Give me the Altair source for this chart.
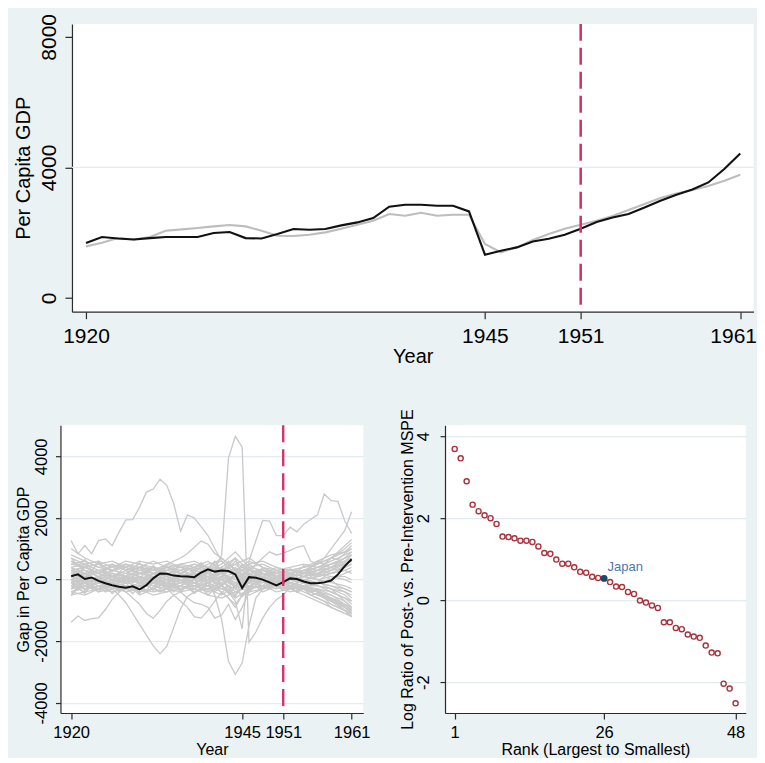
import altair as alt
import pandas as pd

FONT = "Liberation Sans"
BG = "#EAF2F3"
GRID = "#E2ECEE"
RED = "#D6336C"
AXIS = "#2b2b2b"

# ---------------- top panel: Japan vs synthetic Japan ----------------
years = list(range(1920, 1962))
japan_gdp = [1683, 1867, 1824, 1794, 1835, 1867, 1867, 1867, 1990, 2020,
             1835, 1824, 1959, 2112, 2092, 2112, 2224, 2316, 2449, 2795,
             2857, 2857, 2826, 2826, 2652, 1326, 1449, 1551, 1734, 1816,
             1939, 2122, 2327, 2469, 2571, 2775, 2979, 3163, 3326, 3540,
             3949, 4428]
synthetic_gdp = [1581, 1693, 1835, 1794, 1870, 2061, 2102, 2143, 2194, 2235,
                 2194, 2061, 1908, 1898, 1939, 2010, 2122, 2245, 2367, 2571,
                 2520, 2612, 2520, 2550, 2550, 1653, 1398, 1551, 1775, 1959,
                 2122, 2245, 2367, 2510, 2693, 2877, 3061, 3204, 3306, 3428,
                 3591, 3775]
treatment_year = 1951
top_grid_values = [4000]

# ---------------- bottom-left: gaps (Japan + placebos) ----------------
japan_gap = [110, 170, 20, 70, -40, -120, -180, -230, -260, -220,
             -320, -180, 40, 200, 190, 130, 110, 100, 80, 230,
             335, 260, 295, 280, 170, -270, 80, 60, 0, -90,
             -190, -80, 40, 20, -60, -120, -120, -90, -30, 170,
             440, 660]

bundle_years = [1920, 1922, 1924, 1926, 1928, 1930, 1932, 1934, 1936, 1938,
                1940, 1942, 1944, 1946, 1948, 1950, 1952, 1954, 1956, 1958,
                1960, 1961]
p01 = [600, 400, 500, 300, 400, 200, 300, 500, 400, 300, 500, 600, 200, 400, 300, 200, 300, 400, 600, 800, 900, 1000]
p02 = [-300, -200, -400, -300, -200, -400, -300, -100, -300, -200, -400, -200, -600, -300, -200, -300, -200, -400, -600, -800, -1000, -1200]
p03 = [200, 300, 100, 200, 0, 100, -100, 0, 100, 200, 100, 300, 500, 100, 0, -100, 100, 200, 300, 500, 700, 900]
p04 = [-100, 0, -200, -100, -300, -200, -100, -200, 0, -100, -200, -400, -800, -200, -100, 0, -100, -300, -400, -600, -900, -1100]
p05 = [400, 500, 300, 400, 500, 300, 400, 200, 300, 400, 200, 100, 600, 200, 300, 100, 200, 100, 300, 400, 600, 700]
p06 = [0, -100, 100, 0, -100, 0, 200, 100, -100, 0, 100, -100, -300, 100, 0, -200, 0, -100, -200, -300, -500, -700]
p07 = [800, 600, 400, 500, 300, 400, 200, 300, 400, 300, 200, 400, 700, 300, 200, 100, 200, 300, 500, 700, 900, 1100]
p08 = [-500, -400, -300, -400, -200, -300, -400, -300, -200, -400, -300, -500, -200, -400, -300, -200, -300, -500, -700, -900, -1100, -1200]
p09 = [100, 200, 300, 100, 200, 400, 300, 200, 100, 0, 300, 200, 0, -100, 100, 200, 100, 0, -100, -200, -400, -500]
p10 = [300, 100, 0, 200, 100, -100, 0, -200, -100, 100, 0, 200, 300, 500, 200, 100, 0, 100, 200, 400, 500, 600]
p11 = [-200, -300, -100, -200, -300, -100, -200, -300, -400, -300, -100, 0, -400, -200, -300, -100, -200, -300, -300, -400, -600, -800]
p12 = [500, 600, 400, 300, 500, 400, 600, 400, 500, 600, 400, 700, 300, 600, 400, 300, 400, 500, 400, 600, 800, 900]
p13 = [-400, -200, -300, -100, -200, -400, -300, -400, -300, -200, -300, -100, 100, -300, -200, -400, -300, -200, -100, 0, 200, 300]
p14 = [200, 0, 100, 300, 200, 100, 0, 100, 300, 100, 200, 0, -200, 0, 100, 300, 200, 100, 0, -100, -200, -300]
p15 = [700, 500, 600, 400, 600, 500, 300, 400, 200, 400, 600, 300, 500, 700, 400, 200, 300, 200, 400, 500, 700, 800]
p16 = [-100, -300, -200, -400, -300, -200, -100, -200, -300, -100, -200, -300, -500, -100, -200, -100, -300, -200, -400, -500, -700, -900]
p17 = [0, 100, 200, 100, 300, 200, 100, 300, 200, 100, 0, 100, 200, 0, -100, 100, 0, -100, -200, -400, -600, -700]
p18 = [1000, 700, 500, 300, 400, 200, 100, 200, 100, 200, 100, 0, -200, 100, 200, 0, 100, 200, 300, 200, 300, 400]
p19 = [-300, -100, 0, -100, 100, 0, -200, -100, 0, -200, -100, -300, -100, -200, 0, -200, -100, 0, 100, 200, 400, 500]
p20 = [300, 400, 200, 500, 300, 500, 400, 300, 500, 400, 300, 500, 900, 400, 500, 300, 200, 300, 200, 100, 0, -100]
p21 = [100, -100, 0, -100, 0, -100, 100, -100, 0, 100, -100, 100, -100, 0, -100, 100, 0, 100, 200, 300, 400, 500]
p22 = [-200, 0, -100, 100, -100, 100, -100, 0, -100, -100, 0, -200, 200, -100, 100, -100, -100, -200, -300, -500, -800, -1000]
p23 = [400, 200, 300, 100, 0, 200, 100, 0, 200, 0, -100, 100, 400, -100, 0, 200, 300, 200, 100, 300, 500, 600]
p24 = [-400, -500, -300, -200, -400, -300, -500, -400, -200, -300, -500, -600, -400, -500, -300, -200, -400, -300, -500, -600, -800, -900]
p25 = [600, 300, 200, 0, 100, 300, 200, 400, 300, 500, 400, 200, 0, 300, 100, 400, 200, 300, 400, 500, 600, 800]
p26 = [-100, 100, 0, -200, 0, -100, -300, -100, -200, 0, 200, 0, 100, 200, 0, -100, 100, 0, -100, -200, -300, -400]
p27 = [200, 100, 300, 200, 100, 0, 200, 100, -100, 200, 100, -200, -500, 0, 200, 100, -100, -200, -200, -300, -400, -600]
p28 = [-200, -100, -300, 0, -100, -200, 0, -300, -100, -200, 0, 200, -100, 100, -100, 0, 100, 200, 100, 200, 300, 200]
p29 = [500, 400, 500, 600, 400, 600, 500, 600, 400, 500, 300, 400, 100, 500, 600, 400, 300, 400, 500, 700, 1000, 1200]
p30 = [0, 200, -100, 100, -100, 100, 0, -100, 100, -100, 100, 200, 300, 0, 100, 0, 200, 100, 0, 100, 100, 0]

# bundle lines with yearly zig-zags (1920-1961)
q1 = [400, 150, 500, 250, 600, 300, 450, 200, 500, 350, 550, 250, 400, 150, 450, 300, 500, 200, 350, 550,
      300, 600, 250, 450, 700, 100, 400, 250, 350, 150, 300, 200, 350, 250, 450, 400, 550, 500, 700, 650,
      850, 1000]
q2 = [-300, -50, -350, -150, -400, -100, -300, -50, -250, -450, -200, -350, -100, -300, -150, -400, -200, -50, -300, -150,
      -350, -100, -450, -200, -600, 100, -250, -100, -300, -150, -250, -100, -200, -300, -250, -400, -350, -500, -600, -700,
      -850, -950]
q3 = [100, 350, 50, 300, 0, 250, -50, 200, 100, 350, 50, 250, 0, 300, 100, 350, 150, -50, 250, 50,
      300, 100, 400, -100, 200, 500, 0, 200, 50, 250, 0, 150, 50, 200, 100, 250, 150, 350, 300, 450,
      550, 650]
q4 = [-100, -350, 0, -250, 50, -300, -100, -400, 0, -200, -450, -150, -350, 0, -250, -100, -400, -200, 50, -300,
      -100, -350, 100, -300, -500, -200, 200, -150, 0, -250, -50, -200, -100, -300, -200, -350, -400, -550, -650, -800,
      -900, -1050]
q5 = [700, 450, 650, 300, 550, 400, 250, 500, 300, 150, 400, 200, 450, 250, 100, 350, 150, 400, 200, 450,
      250, 500, 200, 600, 300, 0, 350, 150, 400, 250, 100, 250, 150, 300, 200, 350, 300, 450, 400, 550,
      700, 800]
q6 = [-500, -250, -450, -150, -400, -200, -450, -250, -100, -350, -150, -400, -250, -50, -300, -150, -350, -200, -450, -250,
      -500, -300, -150, -450, -250, -550, -350, -200, -400, -300, -200, -350, -250, -400, -300, -500, -450, -600, -700, -850,
      -1000, -1100]

# placebo lines that leave the bundle (yearly values 1920-1961)
pA = [1266, 834, 1104, 834, 1266, 1320, 1104, 1540, 1940, 1950,
      2350, 2840, 2940, 3260, 3050, 2460, 1570, 2100, 2000, 1720,
      1430, 1000, 600, 400, 200, -300, 100, 300, 200, 100,
      0, -100, 100, 300, 200, 400, 600, 500, 700, 900,
      1100, 1300]
pC = [300, 200, 400, 300, 200, 300, 100, 200, 0, 100,
      200, 300, 400, 350, 500, 600, 700, 850, 1050, 1250,
      1150, 850, 700, 500, 300, -100, 200, 100, 300, 200,
      100, 0, -100, -200, -100, -300, -400, -500, -700, -800,
      -1000, -1100]
pS1 = [-200, -100, -300, -200, -100, 0, -200, -100, 100, 0,
       -100, 100, 0, 200, 100, 0, 200, 100, 300, 200,
       400, 300, 800, 3950, 4650, 4300, -2030, -1700, -1250, -900,
       -650, -500, -250, -100, 0, -200, -100, 100, 0, -200,
       -300, -400]
pS2 = [100, 300, 200, 0, 100, -100, 0, 200, 100, -100,
       0, -200, -100, 0, -200, -100, -300, -200, -400, -300,
       -100, -500, -1300, -2650, -3080, -2700, -1500, -600, -300, -100,
       100, 0, 200, 100, 300, 200, 100, 300, 400, 300,
       500, 600]
pE = [-100, 0, -200, -100, 0, 100, 0, -100, 0, 200,
      100, 0, -100, 100, 0, 200, 100, 0, 200, 100,
      0, 200, -200, -400, -700, -1600, 600, 1270, 1920, 1900,
      1430, 1430, 1700, 1550, 1800, 1950, 2100, 2780, 2560, 2540,
      1900, 1500]
pF = [0, 100, -100, 200, 100, 0, 100, 200, 0, -100,
      100, 0, 200, 100, 0, -100, 100, 200, 0, 100,
      -100, 100, 300, 0, -300, 200, 300, 500, 700, 900,
      800, 850, 950, 1050, 1100, 600, 500, 700, 1000, 1300,
      1600, 2200]
pN1 = [-1385, -1180, -1325, -1270, -1240, -970, -640, -400, -300, -200,
       -300, -100, 0, -200, -100, 100, 0, -200, -100, -300,
       -200, -400, -200, 0, 200, 100, -100, 0, 200, 100,
       0, 100, -100, -300, -200, -400, -500, -600, -800, -900,
       -1000, -1200]
pG = [300, 100, 200, 0, -100, -200, -300, -500, -750, -1100,
      -1450, -1800, -2150, -2410, -2150, -1550, -950, -550, -400, -300,
      -100, -200, 100, 0, -200, 200, 0, -100, -200, 0,
      100, 200, 100, 0, -100, 100, 0, -200, -300, -500,
      -700, -900]
pH = [-500, -300, -400, -200, -300, -100, -200, -300, -400, -600,
      -800, -1100, -1250, -1000, -700, -500, -700, -900, -1200, -1250,
      -1000, -700, -400, -600, -900, -500, -300, -100, 0, -200,
      -100, -300, -200, -400, -300, -500, -600, -700, -900, -1000,
      -1100, -1150]
pI = [0, -200, -100, -300, -200, -400, -300, -200, -400, -300,
      -500, -400, -300, -400, -300, -500, -400, -600, -750, -800,
      -900, -1250, -1150, -800, -1300, -900, -400, -200, -300, -100,
      -200, 0, -200, -100, -300, -400, -300, -500, -600, -700,
      -900, -1000]

# ---------------- bottom-right: MSPE ratio ranking ----------------
ranks = list(range(1, 49))
log_ratio = [3.69, 3.46, 2.90, 2.33, 2.17, 2.07, 2.00, 1.86, 1.55, 1.54,
             1.51, 1.45, 1.45, 1.42, 1.31, 1.15, 1.13, 0.99, 0.89, 0.89,
             0.80, 0.69, 0.67, 0.57, 0.54, 0.53, 0.44, 0.33, 0.32, 0.20,
             0.15, -0.01, -0.06, -0.13, -0.19, -0.54, -0.54, -0.68, -0.71, -0.84,
             -0.89, -0.92, -1.11, -1.28, -1.30, -2.04, -2.16, -2.52]
japan_rank = 26
japan_label = "Japan"

# ================= build frames =================
top_df = pd.DataFrame({
    "year": years + years,
    "gdp": japan_gdp + synthetic_gdp,
    "series": ["Japan"] * len(years) + ["Synthetic Japan"] * len(years),
})

bundle = [p01, p02, p03, p04, p05, p06, p07, p08, p09, p10,
          p11, p12, p13, p14, p15, p16, p17, p18, p19, p20,
          p21, p22, p23, p24, p25, p26, p27, p28, p29, p30]
yearly = [q1, q2, q3, q4, q5, q6, pA, pC, pS1, pS2, pE, pF, pN1, pG, pH, pI]
rows = []
for i, vals in enumerate(bundle):
    for yr, v in zip(bundle_years, vals):
        rows.append({"line": f"b{i}", "year": yr, "gap": v})
for i, vals in enumerate(yearly):
    for yr, v in zip(years, vals):
        rows.append({"line": f"y{i}", "year": yr, "gap": v})
placebo_df = pd.DataFrame(rows)
gap_df = pd.DataFrame({"year": years, "gap": japan_gap})

rank_df = pd.DataFrame({"rank": ranks, "ratio": log_ratio})
others_df = rank_df[rank_df["rank"] != japan_rank]
japan_df = rank_df[rank_df["rank"] == japan_rank].assign(label=japan_label)

PLAIN = "'' + datum.value"

# ================= top chart =================
x_top = alt.X("year:Q", scale=alt.Scale(domain=[1919.12, 1961.83], nice=False, zero=False),
              axis=alt.Axis(values=[1920, 1945, 1951, 1961], labelExpr=PLAIN, title="Year",
                            labelFontSize=21, titleFontSize=20, tickSize=7, labelPadding=7,
                            titlePadding=0, grid=False, labelOverlap=False, labelFlush=False,
                            labelOffset={"condition": {"test": "datum.value == 1961", "value": -7.1},
                                         "value": 0}))
y_top = alt.Y("gdp:Q", scale=alt.Scale(domain=[-419, 8396], nice=False, zero=False),
              axis=alt.Axis(values=[0, 4000, 8000], labelExpr=PLAIN, title="Per Capita GDP",
                            labelAngle=270, labelAlign="center", labelBaseline="bottom",
                            labelFontSize=21, titleFontSize=20, tickSize=7, labelPadding=5.6,
                            titlePadding=4.9, minExtent=33.6, maxExtent=33.6, grid=False,
                            labelOverlap=False, labelFlush=False))

top_grid = alt.Chart(pd.DataFrame({"gdp": top_grid_values})).mark_rule(
    color=GRID, strokeWidth=1.3).encode(y=y_top)
top_synth = alt.Chart(top_df[top_df["series"] == "Synthetic Japan"]).mark_line(
    strokeWidth=2.1, color="#BDBDBD").encode(x=x_top, y=y_top)
top_japan = alt.Chart(top_df[top_df["series"] == "Japan"]).mark_line(
    strokeWidth=2.1, color="#111111").encode(x=x_top, y=y_top)
top_rule = alt.Chart(pd.DataFrame({"year": [treatment_year]})).mark_rule(
    color=RED, strokeWidth=2.6, strokeDash=[17, 7]).encode(x=x_top)
top = alt.layer(top_grid, top_synth, top_japan, top_rule).properties(width=682, height=288)

# invisible 1px spacer that lets the top panel sit independently of the bottom row
spacer = alt.Chart(pd.DataFrame({"s": [0]})).mark_point(opacity=0).encode(
    x=alt.X("s:Q", axis=None), y=alt.Y("s:Q", axis=None)
).properties(width=1, height=288, view=alt.ViewBackground(fill=None, stroke=None))

# ================= bottom-left chart =================
x_bl = alt.X("year:Q", scale=alt.Scale(domain=[1918.44, 1962.70], nice=False, zero=False),
             axis=alt.Axis(values=[1920, 1945, 1951, 1961], labelExpr=PLAIN, title="Year",
                           labelFontSize=16.5, titleFontSize=16, tickSize=6, labelPadding=5.8,
                           titlePadding=0, grid=False, labelOverlap=False, labelFlush=False))
y_bl = alt.Y("gap:Q", scale=alt.Scale(domain=[-4330, 5011], nice=False, zero=False),
             axis=alt.Axis(values=[-4000, -2000, 0, 2000, 4000], labelExpr=PLAIN,
                           title="Gap in Per Capita GDP",
                           labelAngle=270, labelAlign="center", labelBaseline="bottom",
                           labelFontSize=16.5, titleFontSize=16, tickSize=5, labelPadding=5.5,
                           titlePadding=1.6, minExtent=27, maxExtent=27, grid=True,
                           gridColor=GRID, gridWidth=1.3, labelOverlap=False, labelFlush=False))
bl_placebo = alt.Chart(placebo_df).mark_line(strokeWidth=1.3, color="#C9C9C9").encode(
    x=x_bl, y=y_bl, detail="line:N", order=alt.Order("year:Q"))
bl_japan = alt.Chart(gap_df).mark_line(strokeWidth=2.0, color="#111111").encode(x=x_bl, y=y_bl)
bl_rule = alt.Chart(pd.DataFrame({"year": [treatment_year]})).mark_rule(
    color=RED, strokeWidth=2.4, strokeDash=[17, 7]).encode(x=x_bl)
bl = alt.layer(bl_placebo, bl_japan, bl_rule).properties(width=303, height=288)

# ================= bottom-right chart =================
x_br = alt.X("rank:Q", scale=alt.Scale(domain=[-0.62, 49.71], nice=False, zero=False),
             axis=alt.Axis(values=[1, 26, 48], labelExpr=PLAIN, title="Rank (Largest to Smallest)",
                           labelFontSize=16.5, titleFontSize=16, tickSize=6, labelPadding=5.8,
                           titlePadding=0, grid=False, labelOverlap=False, labelFlush=False))
y_br = alt.Y("ratio:Q", scale=alt.Scale(domain=[-2.756, 4.268], nice=False, zero=False),
             axis=alt.Axis(values=[-2, 0, 2, 4], labelExpr=PLAIN,
                           title="Log Ratio of Post- vs. Pre-Intervention MSPE",
                           labelAngle=270, labelAlign="center", labelBaseline="bottom",
                           labelFontSize=16.5, titleFontSize=16, tickSize=5, labelPadding=8.5,
                           titlePadding=0, minExtent=30, maxExtent=30, grid=True,
                           gridColor=GRID, gridWidth=1.3, labelOverlap=False, labelFlush=False))
br_pts = alt.Chart(others_df).mark_point(shape="circle", filled=False, size=26, strokeWidth=1.4,
                                         color="#A8323E", opacity=1).encode(x=x_br, y=y_br)
br_jp = alt.Chart(japan_df).mark_point(shape="circle", filled=True, size=48,
                                       color="#1A476F", opacity=1).encode(x=x_br, y=y_br)
br_lbl = alt.Chart(japan_df).mark_text(align="left", baseline="alphabetic", dx=3.5, dy=-7,
                                       fontSize=13, font=FONT, color="#4A78A8").encode(
    x=x_br, y=y_br, text="label:N")
br = alt.layer(br_pts, br_jp, br_lbl).properties(width=301, height=288)

chart = alt.concat(
    alt.hconcat(spacer, top, spacing=-51.5),
    alt.hconcat(bl, br, spacing=27.8),
    columns=1,
    align="none",
    spacing=41.6,
).properties(
    padding={"left": 5.5, "top": 4.65, "right": 0, "bottom": 0},
    background=BG,
).configure_view(
    stroke=None, fill="white"
).configure_axis(
    domainColor=AXIS, tickColor=AXIS, domainWidth=1.2, tickWidth=1.2,
    labelColor="black", titleColor="black", labelFont=FONT, titleFont=FONT,
    titleFontWeight="normal",
)

chart.save("out.html", embed_options={"renderer": "svg", "actions": False})
